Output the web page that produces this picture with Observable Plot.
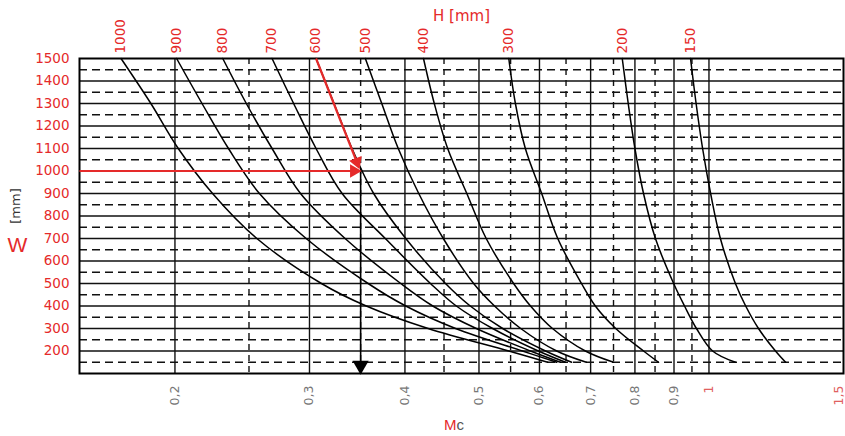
<!DOCTYPE html>
<html><head><meta charset="utf-8">
<script src="https://cdn.jsdelivr.net/npm/d3@7"></script>
<script src="https://cdn.jsdelivr.net/npm/@observablehq/plot@0.6"></script>
<style>
body{margin:0;background:#fff;}
#chart svg{display:block;}
</style></head><body><div id="chart"></div>
<script>
// W levels (mm) at which each H curve was read
const widths = [1500, 1300, 1100, 900, 700, 500, 400, 300, 200, 150];
// curve labels H (mm)
const heights = [1000, 900, 800, 700, 600, 500, 400, 300, 200, 150];
// Mc values of each H curve at the W levels above
const mc1000 = [0.170, 0.186, 0.202, 0.224, 0.256, 0.311, 0.356, 0.429, 0.547, 0.615];
const mc900  = [0.201, 0.217, 0.235, 0.258, 0.297, 0.358, 0.401, 0.466, 0.570, 0.632];
const mc800  = [0.231, 0.248, 0.268, 0.292, 0.334, 0.395, 0.435, 0.496, 0.584, 0.639];
const mc700  = [0.268, 0.286, 0.306, 0.331, 0.377, 0.432, 0.467, 0.521, 0.598, 0.649];
const mc600  = [0.306, 0.323, 0.341, 0.364, 0.401, 0.452, 0.487, 0.537, 0.611, 0.661];
const mc500  = [0.355, 0.373, 0.392, 0.417, 0.449, 0.492, 0.524, 0.567, 0.632, 0.691];
const mc400  = [0.423, 0.437, 0.455, 0.482, 0.511, 0.555, 0.584, 0.624, 0.689, 0.750];
const mc300  = [0.547, 0.558, 0.575, 0.604, 0.634, 0.681, 0.710, 0.755, 0.821, 0.859];
const mc200  = [0.770, 0.784, 0.800, 0.821, 0.851, 0.899, 0.929, 0.963, 1.011, 1.083];
const mc150  = [0.946, 0.962, 0.981, 1.005, 1.035, 1.083, 1.117, 1.161, 1.222, 1.260];
const seriesMc = [mc1000, mc900, mc800, mc700, mc600, mc500, mc400, mc300, mc200, mc150];

// tick labels
const wTicks = [200, 300, 400, 500, 600, 700, 800, 900, 1000, 1100, 1200, 1300, 1400, 1500];
const mcTicksGray = [0.2, 0.3, 0.4, 0.5, 0.6, 0.7, 0.8, 0.9];
const mcTicksRed = [1];
const mcTicksEdge = [1.5];
// grid
const gridWSolid = [200, 300, 400, 500, 600, 700, 800, 900, 1000, 1100, 1200, 1300, 1400];
const gridWDashed = [150, 250, 350, 450, 550, 650, 750, 850, 950, 1050, 1150, 1250, 1350, 1450];
const gridMcSolid = [0.2, 0.3, 0.4, 0.5, 0.6, 0.7, 0.8, 0.9, 1];
const gridMcDashed = [0.25, 0.35, 0.45, 0.55, 0.65, 0.75, 0.85, 0.95];
// worked example: W = 1000, H = 600 -> Mc = 0.35
const exampleW = 1000;
const exampleMc = 0.35;
const exampleStartMc = 0.15;
const exampleEndW = 100;
const markerW = 136;
// red arrow heads (position of the head, rotation in degrees)
const redHeads = [
  {Mc: 0.343, W: 1000, angle: 90},
  {Mc: 0.346, W: 1040, angle: 159}
];

const RED = "#e52a2a";
const NUMFONT = "'DejaVu Sans', Verdana, sans-serif";
const rows = heights.flatMap((h, i) => widths.map((w, j) => ({H: h, W: w, Mc: seriesMc[i][j]})));
const tops = heights.map((h, i) => ({H: h, W: widths[0], Mc: seriesMc[i][0]}));
const redLinks = [
  {x1: exampleStartMc, y1: exampleW, x2: redHeads[0].Mc, y2: redHeads[0].W},
  {x1: mc600[0], y1: widths[0], x2: redHeads[1].Mc, y2: redHeads[1].W}
];
const blackLink = [{x1: exampleMc, y1: exampleW, x2: exampleMc, y2: exampleEndW}];
const fmt = d => String(d).replace(".", ",");

const chart = Plot.plot({
  width: 845, height: 436,
  marginLeft: 79, marginRight: 2, marginTop: 58, marginBottom: 63,
  x: {type: "log", domain: [0.15, 1.5], axis: null, label: null},
  y: {domain: [100, 1500], axis: null, label: null},
  style: {fontFamily: "'Liberation Sans', Arial, sans-serif", background: "white", overflow: "visible"},
  marks: [
    Plot.ruleY(gridWSolid, {stroke: "#111", strokeWidth: 1.4}),
    Plot.ruleY(gridWDashed, {stroke: "#111", strokeWidth: 1.4, strokeDasharray: "8,5"}),
    Plot.ruleX(gridMcSolid, {stroke: "#111", strokeWidth: 1.4}),
    Plot.ruleX(gridMcDashed, {stroke: "#111", strokeWidth: 1.4, strokeDasharray: "6,5"}),
    Plot.line(rows, {x: "Mc", y: "W", z: "H", curve: "catmull-rom", stroke: "#000", strokeWidth: 1.5}),
    Plot.frame({stroke: "#000", strokeWidth: 2}),
    Plot.link(blackLink, {x1: "x1", y1: "y1", x2: "x2", y2: "y2", stroke: "#000", strokeWidth: 1.6}),
    Plot.dot([{Mc: exampleMc, W: markerW}], {x: "Mc", y: "W", symbol: "triangle", rotate: 180, r: 6, fill: "#000", stroke: null}),
    Plot.link(redLinks, {x1: "x1", y1: "y1", x2: "x2", y2: "y2", stroke: RED, strokeWidth: 2.2}),
    Plot.dot(redHeads, {x: "Mc", y: "W", symbol: "triangle", rotate: "angle", r: 5, fill: RED, stroke: null}),
    Plot.text(tops, {x: "Mc", y: "W", text: d => String(d.H), rotate: -90, textAnchor: "start", dy: -5, fill: RED, fontSize: 13.5, fontFamily: NUMFONT}),
    Plot.axisY(wTicks, {anchor: "left", tickSize: 0, tickPadding: 10, fill: RED, fontSize: 13.5, fontFamily: NUMFONT, tickFormat: d => String(d), label: null}),
    Plot.axisX(mcTicksGray, {anchor: "bottom", tickSize: 0, tickPadding: 12, tickRotate: -90, fill: "#777", fontSize: 12.5, fontFamily: NUMFONT, tickFormat: fmt, label: null}),
    Plot.axisX(mcTicksRed, {anchor: "bottom", tickSize: 0, tickPadding: 12, tickRotate: -90, fill: "#e06060", fontSize: 12.5, fontFamily: NUMFONT, tickFormat: fmt, label: null}),
    Plot.axisX(mcTicksEdge, {anchor: "bottom", tickSize: 0, tickPadding: 12, tickRotate: -90, dx: -5, fill: "#e06060", fontSize: 12.5, fontFamily: NUMFONT, tickFormat: fmt, label: null}),
    Plot.text(["H [mm]"], {frameAnchor: "top", dy: -48, fill: RED, fontSize: 15, fontFamily: NUMFONT}),
    Plot.text(["M"], {frameAnchor: "bottom", dx: -5, dy: 56, textAnchor: "end", fill: RED, fontSize: 15}),
    Plot.text(["c"], {frameAnchor: "bottom", dx: -5, dy: 56, textAnchor: "start", fill: "#555", fontSize: 15}),
    Plot.text(["W"], {frameAnchor: "left", dx: -62, dy: 29, textAnchor: "middle", fill: RED, fontSize: 21}),
    Plot.text(["[mm]"], {frameAnchor: "left", dx: -64, dy: -10, textAnchor: "middle", rotate: -90, fill: "#333", fontSize: 13, fontFamily: NUMFONT})
  ]
});
document.getElementById("chart").appendChild(chart);
</script></body></html>
